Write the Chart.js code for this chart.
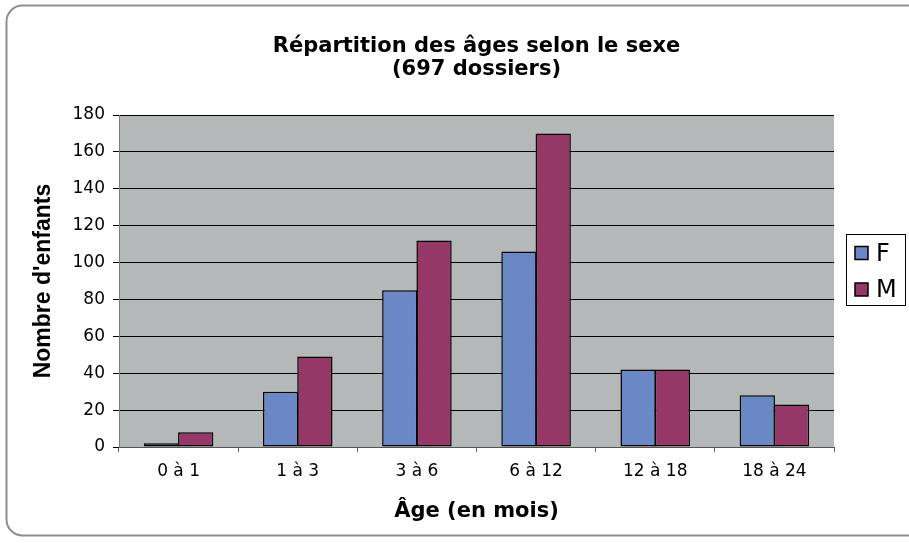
<!DOCTYPE html>
<html>
<head>
<meta charset="utf-8">
<script src="https://cdn.jsdelivr.net/npm/chart.js@4.4.1/dist/chart.umd.min.js"></script>
<style>
  html, body { margin: 0; padding: 0; background: #ffffff; }
  #wrap { width: 909px; height: 543px; }
</style>
</head>
<body>
<div id="wrap"><canvas id="c" width="909" height="543"></canvas></div>
<script>
const categories = ['0 à 1', '1 à 3', '3 à 6', '6 à 12', '12 à 18', '18 à 24'];
const seriesF = [2, 30, 85, 106, 42, 28];
const seriesM = [8, 49, 112, 170, 42, 23];
const seriesNames = ['F', 'M'];
const titleLines = ['Répartition des âges selon le sexe', '(697 dossiers)'];
const xTitle = 'Âge (en mois)';
const yTitle = "Nombre d'enfants";
const yMin = 0, yMax = 180, yStep = 20;

const colF = '#6a88c5';
const colM = '#953868';

const framePlugin = {
  id: 'frame',
  beforeDraw(chart) {
    const ctx = chart.ctx;
    const a = chart.chartArea;
    ctx.save();
    ctx.fillStyle = '#ffffff';
    ctx.fillRect(0, 0, chart.width, chart.height);
    const x0 = 6.5, y0 = 5.5, x1 = 930, y1 = 535.5, r = 16;
    ctx.beginPath();
    ctx.moveTo(x0 + r, y0);
    ctx.lineTo(x1, y0);
    ctx.lineTo(x1, y1);
    ctx.lineTo(x0 + r, y1);
    ctx.arcTo(x0, y1, x0, y1 - r, r);
    ctx.lineTo(x0, y0 + r);
    ctx.arcTo(x0, y0, x0 + r, y0, r);
    ctx.closePath();
    ctx.strokeStyle = '#8f8f8f';
    ctx.lineWidth = 2;
    ctx.stroke();
    ctx.fillStyle = '#b4b8b9';
    ctx.fillRect(a.left, a.top, a.right - a.left, a.bottom - a.top);
    ctx.restore();
  },
  afterDraw(chart) {
    const ctx = chart.ctx;
    ctx.save();
    const bx = 846.5, by = 234.5, bw = 59, bh = 71;
    ctx.fillStyle = '#ffffff';
    ctx.fillRect(bx, by, bw, bh);
    ctx.strokeStyle = '#000000';
    ctx.lineWidth = 1;
    ctx.strokeRect(bx, by, bw, bh);
    const rows = [253.5, 290];
    chart.data.datasets.forEach((ds, i) => {
      const cy = rows[i];
      ctx.fillStyle = ds.backgroundColor;
      ctx.fillRect(855, cy - 7, 13, 13);
      ctx.lineWidth = 1.5;
      ctx.strokeStyle = '#000000';
      ctx.strokeRect(855, cy - 7, 13, 13);
      ctx.fillStyle = '#000000';
      ctx.font = '24px "DejaVu Sans"';
      ctx.textAlign = 'left';
      ctx.textBaseline = 'middle';
      ctx.fillText(ds.label, 876, cy + 1);
    });
    ctx.restore();
  }
};

Chart.defaults.font.family = '"DejaVu Sans", "Liberation Sans", sans-serif';
Chart.defaults.color = '#000000';

new Chart(document.getElementById('c'), {
  type: 'bar',
  data: {
    labels: categories,
    datasets: [
      { label: seriesNames[0], data: seriesF, backgroundColor: colF, borderColor: '#000000', borderWidth: 1.5, borderSkipped: false, inflateAmount: 0 },
      { label: seriesNames[1], data: seriesM, backgroundColor: colM, borderColor: '#000000', borderWidth: 1.5, borderSkipped: false, inflateAmount: 0 }
    ]
  },
  options: {
    responsive: false,
    animation: false,
    devicePixelRatio: 1,
    categoryPercentage: 0.575,
    barPercentage: 1.03,
    layout: { padding: { top: 0, right: 75, bottom: 0, left: 0 } },
    plugins: {
      legend: { display: false },
      tooltip: { enabled: false },
      title: {
        display: true,
        fullSize: false,
        text: titleLines,
        color: '#000000',
        font: { family: '"DejaVu Sans"', size: 21, weight: 'bold', lineHeight: 23 / 21 },
        padding: { top: 35, bottom: 34 }
      }
    },
    scales: {
      x: {
        offset: true,
        grid: { display: true, offset: true, drawOnChartArea: false, drawTicks: true, tickLength: 5, color: '#666666' },
        border: { display: true, color: '#555555', width: 1 },
        ticks: { color: '#000000', font: { size: 17 }, padding: 9, maxRotation: 0 },
        title: {
          display: true, text: xTitle, color: '#000000',
          font: { family: '"DejaVu Sans"', size: 21, weight: 'bold' },
          padding: { top: 4, bottom: 19 }
        },
        afterFit(scale) { scale.height = 96; }
      },
      y: {
        min: yMin, max: yMax,
        grid: { color: '#000000', lineWidth: 1, drawTicks: true, tickLength: 6 },
        border: { display: true, color: '#7a7a7a', width: 1 },
        ticks: { stepSize: yStep, color: '#000000', font: { size: 17 }, padding: 8 },
        title: {
          display: true, text: yTitle, color: '#000000',
          font: { family: '"Liberation Sans"', size: 23, weight: 'bold' },
          padding: { top: 30, bottom: 4 }
        },
        afterFit(scale) { scale.width = 119; }
      }
    }
  },
  plugins: [framePlugin]
});
</script>
</body>
</html>
